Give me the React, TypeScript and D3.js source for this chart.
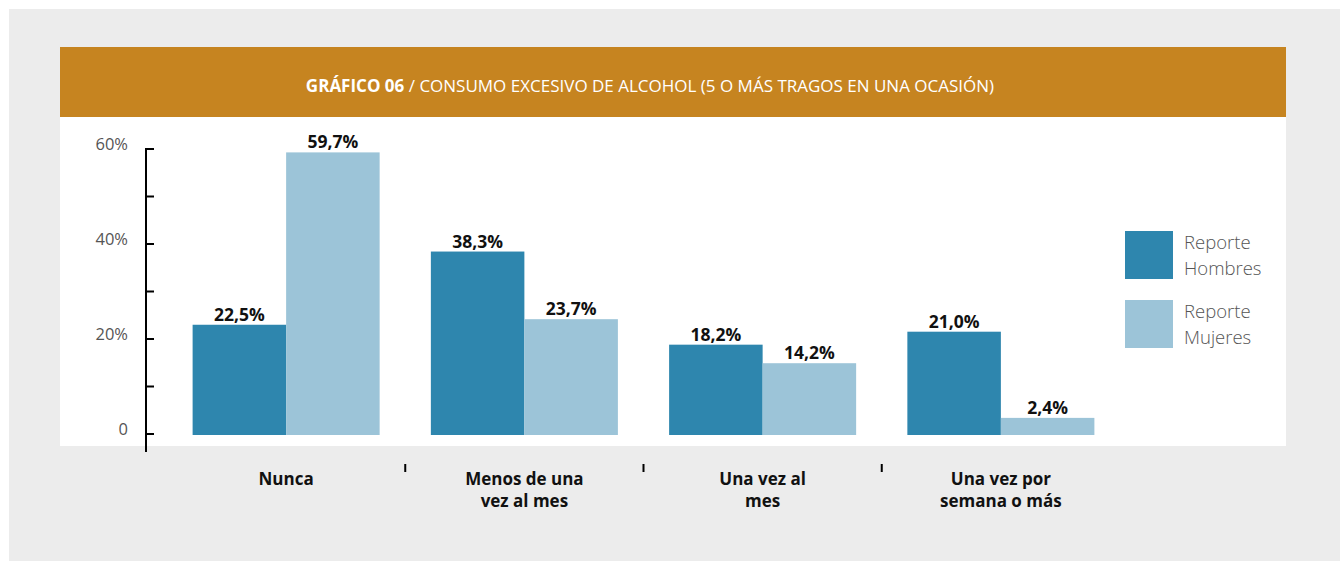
import React from 'react';
import { scaleBand, scaleLinear } from 'd3';

const categories = ['Nunca', 'Menos de una vez al mes', 'Una vez al mes', 'Una vez por semana o más'];
const categoryLines = [['Nunca'], ['Menos de una', 'vez al mes'], ['Una vez al', 'mes'], ['Una vez por', 'semana o más']];
const hombres = [22.5, 38.3, 18.2, 21.0];
const mujeres = [59.7, 23.7, 14.2, 2.4];
const yTicks = [0, 10, 20, 30, 40, 50, 60];
const yTickLabels = ['0', '', '20%', '', '40%', '', '60%'];
const seriesNames = [['Reporte', 'Hombres'], ['Reporte', 'Mujeres']];

const W = 1340, H = 561;
const colors = ['#2e86ae', '#9cc4d8'];
const font = "'Open Sans', 'Noto Sans', sans-serif";

const fmt = (v: number) => v.toFixed(1).replace('.', ',') + '%';

function App() {
  // scales
  const x = scaleBand<string>()
    .domain(categories)
    .range([167, 1120])
    .paddingInner(0.215)
    .paddingOuter(0.1075);
  // axis ticks and bars don't share the exact same zero in the original
  const yAxis = scaleLinear().domain([0, 60]).range([434, 149]);
  const y = scaleLinear().domain([0, 60]).range([429, 151]);
  const base = 435;
  const bw = x.bandwidth() / 2;
  const step = x.step();
  const axisX = 146;

  return (
    <svg width={W} height={H} style={{ position: 'absolute', left: 0, top: 0, display: 'block' }} fontFamily={font}>
      <rect x={0} y={0} width={W} height={H} fill="#fff" />
      <rect x={9} y={9} width={W - 9} height={H - 9} fill="#ececec" />
      {/* title bar */}
      <rect x={60} y={47} width={1226} height={70} fill="#c68420" />
      <text x={650} y={92} textAnchor="middle" fill="#fff" fontSize={17}>
        <tspan fontWeight="bold">GRÁFICO 06</tspan>
        <tspan> / CONSUMO EXCESIVO DE ALCOHOL (5 O MÁS TRAGOS EN UNA OCASIÓN)</tspan>
      </text>
      <rect x={60} y={117} width={1226} height={329} fill="#fff" />

      {/* y axis */}
      <line x1={axisX} x2={axisX} y1={yAxis(60) - 1} y2={yAxis(0) + 18} stroke="#000" strokeWidth={2} />
      {yTicks.map((t, i) => (
        <g key={t}>
          <line x1={axisX} x2={axisX + 8} y1={yAxis(t)} y2={yAxis(t)} stroke="#000" strokeWidth={2} />
          <text x={128} y={yAxis(t) - 5} dy="0.35em" textAnchor="end" fontSize={16.5} fill="#555">
            {yTickLabels[i]}
          </text>
        </g>
      ))}

      {/* bars */}
      {categories.map((c, i) => {
        const x0 = x(c) as number;
        const vals = [hombres[i], mujeres[i]];
        return (
          <g key={c}>
            {vals.map((v, j) => (
              <g key={j}>
                <rect x={x0 + j * bw} y={y(v)} width={bw} height={base - y(v)} fill={colors[j]} />
                <text x={x0 + j * bw + bw / 2} y={y(v) - 4} textAnchor="middle" fontSize={17.5} fontWeight="bold" fill="#111">
                  {fmt(v)}
                </text>
              </g>
            ))}
            {categoryLines[i].map((l, k) => (
              <text key={k} x={x0 + x.bandwidth() / 2} y={485 + k * 22} textAnchor="middle" fontSize={17} fontWeight="bold" fill="#111">
                {l}
              </text>
            ))}
            {i > 0 && (
              <line x1={x0 - (step - x.bandwidth()) / 2} x2={x0 - (step - x.bandwidth()) / 2} y1={464} y2={472} stroke="#000" strokeWidth={2} />
            )}
          </g>
        );
      })}

      {/* legend */}
      {seriesNames.map((s, i) => (
        <g key={i} transform={`translate(1125, ${231 + i * 69})`}>
          <rect width={48} height={48} fill={colors[i]} />
          <text x={59} y={18} fontSize={18.5} fill="#555" fontWeight={300}>{s[0]}</text>
          <text x={59} y={44} fontSize={18.5} fill="#555" fontWeight={300}>{s[1]}</text>
        </g>
      ))}
    </svg>
  );
}

export default App;
